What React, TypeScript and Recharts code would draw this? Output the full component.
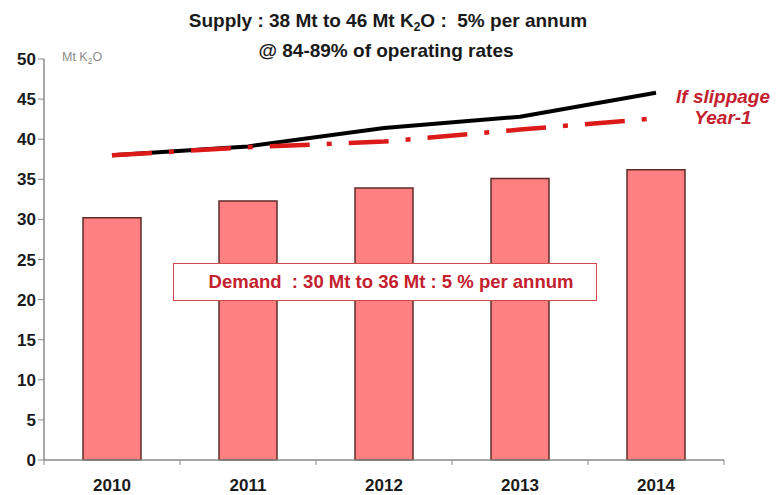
import React from 'react'
import {
  ComposedChart,
  Bar,
  Line,
  XAxis,
  YAxis,
} from 'recharts'

const years = ['2010', '2011', '2012', '2013', '2014']
const demand = [30.2, 32.3, 33.9, 35.1, 36.2]
const supply = [38.0, 39.1, 41.4, 42.8, 45.8]
const slippage = [38.0, 39.0, 39.7, 41.2, 42.6]
const yTicks = [0, 5, 10, 15, 20, 25, 30, 35, 40, 45, 50]

const data = years.map((year, i) => ({
  year,
  demand: demand[i],
  supply: supply[i],
  slippage: slippage[i],
}))

const FONT = '"Liberation Sans", Arial, sans-serif'
const RED = '#c4202e'

const W = 778
const H = 495
const BAND = 136

// year label plus the small marks that sit between categories
function YearTick(props: any) {
  const { x, y, payload, index } = props
  const half = BAND / 2
  return (
    <g>
      <line x1={x - half} y1={y - 8} x2={x - half} y2={y - 3} stroke="#8a8a8a" />
      {index === years.length - 1 && (
        <line x1={x + half} y1={y - 8} x2={x + half} y2={y - 3} stroke="#8a8a8a" />
      )}
      <text
        x={x}
        y={y + 23}
        textAnchor="middle"
        fontFamily={FONT}
        fontWeight="bold"
        fontSize={17}
        fill="#1a1a1a"
      >
        {payload.value}
      </text>
    </g>
  )
}

const sub = (size: number, drop: number) => ({
  fontSize: size,
  position: 'relative' as const,
  top: drop,
  lineHeight: 0,
})

export default function App() {
  return (
    <div
      style={{
        position: 'absolute',
        left: 0,
        top: 0,
        width: W,
        height: H,
        background: '#fff',
        fontFamily: FONT,
      }}
    >
      <ComposedChart
        width={W}
        height={H}
        data={data}
        margin={{ top: 59, right: 54, left: 0, bottom: 0 }}
      >
        <XAxis
          dataKey="year"
          height={35}
          axisLine={{ stroke: '#8a8a8a', strokeWidth: 1.5 }}
          tickLine={false}
          tick={<YearTick />}
          interval={0}
        />
        <YAxis
          width={44}
          domain={[0, 50]}
          ticks={yTicks}
          interval={0}
          axisLine={{ stroke: '#8a8a8a', strokeWidth: 1.5 }}
          tickLine={{ stroke: '#8a8a8a' }}
          tickSize={6}
          tick={{ fill: '#1a1a1a', fontSize: 17, fontWeight: 'bold', fontFamily: FONT }}
        />
        <Bar
          dataKey="demand"
          barSize={58}
          fill="#ff8080"
          stroke="#5e2a2a"
          strokeWidth={1.5}
          isAnimationActive={false}
        />
        <Line
          dataKey="supply"
          type="linear"
          stroke="#000"
          strokeWidth={4}
          dot={false}
          isAnimationActive={false}
        />
        <Line
          dataKey="slippage"
          type="linear"
          stroke="#dd1a1a"
          strokeWidth={4.5}
          strokeDasharray="40 17 5 17"
          dot={false}
          isAnimationActive={false}
        />
      </ComposedChart>

      <div
        style={{
          position: 'absolute',
          left: 0,
          width: 776,
          top: 11,
          textAlign: 'center',
          fontWeight: 'bold',
          fontSize: 19,
          color: '#1a1a1a',
          lineHeight: '19px',
          whiteSpace: 'pre',
        }}
      >
        Supply : 38 Mt to 46 Mt K<span style={sub(12, 4)}>2</span>O :  5% per annum
      </div>
      <div
        style={{
          position: 'absolute',
          left: 0,
          width: 772,
          top: 41,
          textAlign: 'center',
          fontWeight: 'bold',
          fontSize: 19,
          color: '#1a1a1a',
          lineHeight: '19px',
        }}
      >
        @ 84-89% of operating rates
      </div>

      <div
        style={{
          position: 'absolute',
          left: 62,
          top: 51,
          fontSize: 12.5,
          lineHeight: '12.5px',
          color: '#8c8c8c',
        }}
      >
        Mt K<span style={sub(8.5, 3)}>2</span>O
      </div>

      <div
        style={{
          position: 'absolute',
          left: 670,
          width: 106,
          top: 86,
          textAlign: 'center',
          fontWeight: 'bold',
          fontStyle: 'italic',
          fontSize: 19,
          color: RED,
          lineHeight: '21px',
        }}
      >
        <div>If slippage</div>
        <div>Year-1</div>
      </div>

      <div
        style={{
          position: 'absolute',
          left: 173,
          top: 263,
          width: 424,
          height: 38,
          boxSizing: 'border-box',
          border: '1.5px solid #d24a50',
          background: '#fff',
          display: 'flex',
          alignItems: 'center',
          justifyContent: 'center',
          fontWeight: 'bold',
          fontSize: 18.5,
          color: RED,
          whiteSpace: 'pre',
          paddingLeft: 12,
        }}
      >
        {'Demand  : 30 Mt to 36 Mt : 5 % per annum'}
      </div>
    </div>
  )
}
